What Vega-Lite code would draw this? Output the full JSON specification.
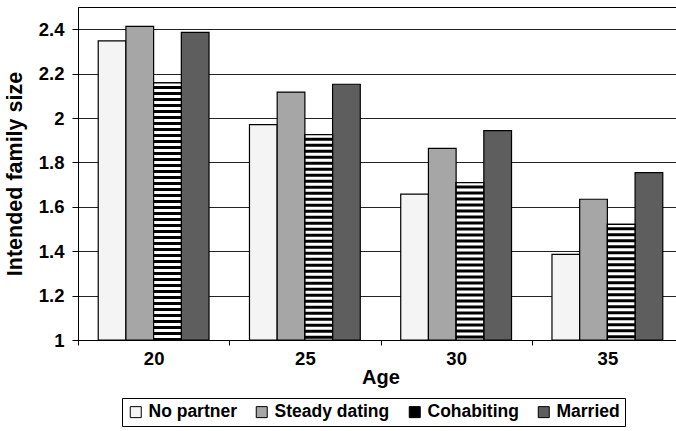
{
  "$schema": "https://vega.github.io/schema/vega-lite/v6.json",
  "autosize": "none",
  "padding": {"left": 78, "top": 7, "right": 0, "bottom": 91},
  "width": 605,
  "height": 333,
  "background": "white",
  "config": {
    "font": "Liberation Sans",
    "view": {"stroke": "black", "strokeWidth": 1}
  },
  "data": {
    "values": [
      {"age": "20", "status": "No partner", "value": 2.347},
      {"age": "20", "status": "Steady dating", "value": 2.413},
      {"age": "20", "status": "Cohabiting", "value": 2.158},
      {"age": "20", "status": "Married", "value": 2.386},
      {"age": "25", "status": "No partner", "value": 1.97},
      {"age": "25", "status": "Steady dating", "value": 2.117},
      {"age": "25", "status": "Cohabiting", "value": 1.925},
      {"age": "25", "status": "Married", "value": 2.152},
      {"age": "30", "status": "No partner", "value": 1.657},
      {"age": "30", "status": "Steady dating", "value": 1.863},
      {"age": "30", "status": "Cohabiting", "value": 1.709},
      {"age": "30", "status": "Married", "value": 1.943},
      {"age": "35", "status": "No partner", "value": 1.386},
      {"age": "35", "status": "Steady dating", "value": 1.634},
      {"age": "35", "status": "Cohabiting", "value": 1.521},
      {"age": "35", "status": "Married", "value": 1.754}
    ]
  },
  "encoding": {
    "x": {
      "field": "age", "type": "nominal",
      "scale": {"paddingInner": 0, "paddingOuter": 0},
      "axis": {
        "title": "Age", "labelAngle": 0, "tickBand": "extent",
        "labelFont": "Liberation Sans", "labelFontWeight": "bold", "labelFontSize": 18.5, "labelColor": "black",
        "titleFont": "Liberation Sans", "titleFontWeight": "bold", "titleFontSize": 20, "titleColor": "black",
        "tickColor": "black", "tickSize": 5, "labelPadding": 4, "titlePadding": 0,
        "domainColor": "black", "grid": false
      }
    },
    "xOffset": {
      "field": "status", "type": "nominal",
      "sort": ["No partner", "Steady dating", "Cohabiting", "Married"],
      "scale": {"domain": ["No partner", "Steady dating", "Cohabiting", "Married"], "paddingInner": 0, "paddingOuter": 0.73}
    },
    "y": {
      "field": "value", "type": "quantitative",
      "scale": {"domain": [1, 2.5], "zero": false, "nice": false},
      "axis": {
        "title": "Intended family size",
        "values": [1, 1.2, 1.4, 1.6, 1.8, 2, 2.2, 2.4],
        "format": "~g",
        "labelFont": "Liberation Sans", "labelFontWeight": "bold", "labelFontSize": 18.5, "labelColor": "black",
        "titleFont": "Liberation Sans", "titleFontWeight": "bold", "titleFontSize": 21.5, "titleColor": "black",
        "tickColor": "black", "tickSize": 6, "labelPadding": 8, "titlePadding": 12,
        "domainColor": "black", "gridColor": "#222222", "gridWidth": 1
      }
    },
    "y2": {"datum": 1}
  },
  "layer": [
    {
      "mark": {"type": "bar", "stroke": "black", "strokeWidth": 1.2},
      "encoding": {
        "fill": {
          "field": "status", "type": "nominal",
          "sort": ["No partner", "Steady dating", "Cohabiting", "Married"],
          "scale": {
            "domain": ["No partner", "Steady dating", "Cohabiting", "Married"],
            "range": ["#f4f4f4", "#a6a6a6", "black", "#5e5e5e"]
          },
          "legend": {
            "title": null, "orient": "none", "direction": "horizontal", "columns": 4,
            "legendX": 44, "legendY": 391,
            "strokeColor": "black", "padding": 5,
            "symbolType": "square", "symbolSize": 121, "symbolStrokeColor": "black", "symbolStrokeWidth": 1,
            "labelFont": "Liberation Sans", "labelFontWeight": "bold", "labelFontSize": 17.5, "labelColor": "black",
            "labelOffset": 4, "columnPadding": 16, "labelLimit": 300
          }
        }
      }
    },
    {
      "transform": [{"filter": "datum.status === 'Cohabiting'"}],
      "mark": {"type": "rule", "color": "white", "strokeWidth": 27, "strokeDash": [3, 3]},
      "encoding": {}
    },
    {
      "transform": [{"filter": "datum.status === 'Cohabiting'"}],
      "mark": {"type": "bar", "fill": null, "fillOpacity": 0, "stroke": "black", "strokeWidth": 1.2},
      "encoding": {}
    }
  ]
}
